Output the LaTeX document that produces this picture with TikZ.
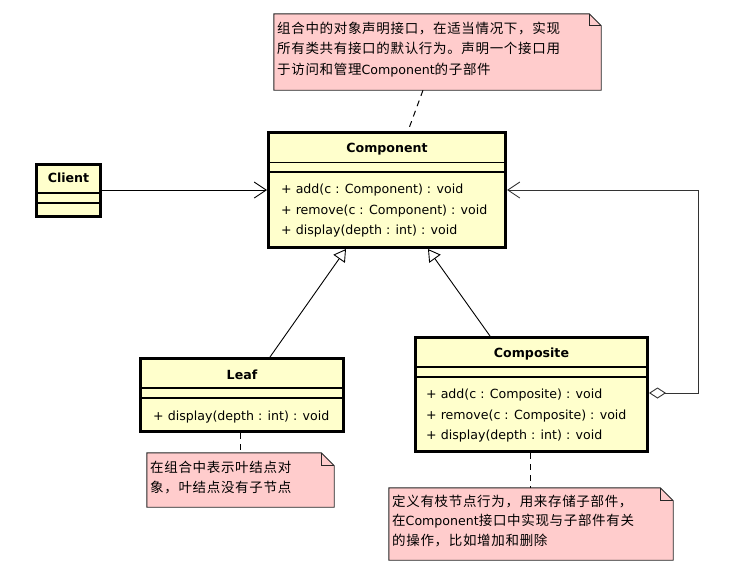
\documentclass[tikz,border=0pt]{standalone}
\usepackage{fontspec}
\setmainfont{DejaVu Sans}
\newfontfamily\cjk[LetterSpace=5]{Noto Sans CJK SC}
\newfontfamily\lat{DejaVu Sans}
\usetikzlibrary{arrows.meta,calc}
\definecolor{clsfill}{HTML}{FFFFCC}
\definecolor{notefill}{HTML}{FFCCCC}
\tikzset{
 cls/.style={draw=black, line width=3pt, fill=clsfill, inner sep=0pt, rectangle},
 sepline/.style={line width=1.2pt},
 ttl/.style={font=\fontsize{12.6}{15}\selectfont\bfseries, inner sep=0pt},
 meth/.style={font=\fontsize{12.6}{15}\selectfont, inner sep=0pt, anchor=west},
 notebox/.style={inner sep=0pt, rectangle},
 noteshape/.style={draw=black!85, line width=0.9pt, fill=notefill},
 notetxt/.style={font=\cjk\fontsize{13.5}{16}\selectfont, inner sep=0pt, anchor=base west},
 dep/.style={-{Straight Barb[length=12pt,width=16pt]}, line width=0.9pt},
 inh/.style={-{Triangle[open,length=12pt,width=14pt]}, line width=0.9pt},
 agg/.style={{Diamond[open,length=17pt,width=11pt]}-{Straight Barb[length=12pt,width=16pt]}, line width=0.9pt, draw=black!80},
 anchorline/.style={dash pattern=on 6pt off 5pt, line width=1pt},
}
\newcommand{\mynote}[2]{%
 \draw[noteshape] (#1.north west) -- ($(#1.north east)+(-#2,0pt)$) -- ($(#1.north east)+(0pt,-#2)$) -- (#1.south east) -- (#1.south west) -- cycle;
 \draw[noteshape, fill=none] ($(#1.north east)+(-#2,0pt)$) -- ($(#1.north east)+(-#2,-#2)$) -- ($(#1.north east)+(0pt,-#2)$);
}
\begin{document}
\begin{tikzpicture}[x=1pt,y=-1pt]
\useasboundingbox[fill=white] (0,0) rectangle (738,576);

% Notes
\node[notebox, minimum width=327pt, minimum height=76pt] (note1) at (437.5,52) {};
\mynote{note1}{12pt}
\node[notetxt] (n1a) at (277,33) {组合中的对象声明接口，在适当情况下，实现};
\node[notetxt] (n1b) at (277,53) {所有类共有接口的默认行为。声明一个接口用};
\node[notetxt] (n1c) at (277,74) {于访问和管理{\lat\fontsize{12.6}{15}\selectfont Component}的子部件};

\node[notebox, minimum width=187pt, minimum height=54pt] (note2) at (240.5,480) {};
\mynote{note2}{13pt}
\node[notetxt] (n2a) at (150,472) {在组合中表示叶结点对};
\node[notetxt] (n2b) at (150,492) {象，叶结点没有子节点};

\node[notebox, minimum width=284pt, minimum height=72pt] (note3) at (531,524) {};
\mynote{note3}{13pt}
\node[notetxt] (n3a) at (392,506) {定义有枝节点行为，用来存储子部件，};
\node[notetxt] (n3b) at (392,525) {在{\lat\fontsize{12.6}{15}\selectfont Component}接口中实现与子部件有关};
\node[notetxt] (n3c) at (392,545) {的操作，比如增加和删除};

% Classes
\node[cls, minimum width=237pt, minimum height=115pt] (comp) at (387,190) {};
\draw[sepline] (comp.west |- 0,162.7) -- (comp.east |- 0,162.7);
\draw[sepline] (comp.west |- 0,172) -- (comp.east |- 0,172);
\node[ttl] (compt) at (387,149) {Component};
\node[meth] (compm1) at (281,190) {+ add(c : Component) : void};
\node[meth] (compm2) at (281,211) {+ remove(c : Component) : void};
\node[meth] (compm3) at (281,231) {+ display(depth : int) : void};

\node[cls, minimum width=64pt, minimum height=52pt] (client) at (68.5,190) {};
\draw[sepline] (client.west |- 0,193) -- (client.east |- 0,193);
\draw[sepline] (client.west |- 0,203) -- (client.east |- 0,203);
\node[ttl] (clientt) at (68.5,178) {Client};

\node[cls, minimum width=203pt, minimum height=73pt] (leaf) at (242,395) {};
\draw[sepline] (leaf.west |- 0,388) -- (leaf.east |- 0,388);
\draw[sepline] (leaf.west |- 0,398) -- (leaf.east |- 0,398);
\node[ttl] (leaft) at (242,375) {Leaf};
\node[meth] (leafm1) at (153,417) {+ display(depth : int) : void};

\node[cls, minimum width=232pt, minimum height=114pt] (compo) at (531.5,394.5) {};
\draw[sepline] (compo.west |- 0,367) -- (compo.east |- 0,367);
\draw[sepline] (compo.west |- 0,377) -- (compo.east |- 0,377);
\node[ttl] (compot) at (531.5,354) {Composite};
\node[meth] (compom1) at (426,395) {+ add(c : Composite) : void};
\node[meth] (compom2) at (426,416) {+ remove(c : Composite) : void};
\node[meth] (compom3) at (426,436) {+ display(depth : int) : void};

% Connectors
\draw[dep] (client.east) -- (comp.west);
\draw[inh] ([xshift=28pt]leaf.north) -- ([xshift=-41pt]comp.south);
\draw[inh] ([xshift=-41.5pt]compo.north) -- ([xshift=41pt]comp.south);
\draw[agg] ([yshift=1.5pt]compo.east) -| ([xshift=191pt]comp.east) -- (comp.east);
\draw[anchorline] ([xshift=-14.5pt]note1.south) -- ([xshift=21pt]comp.north);
\draw[anchorline] ([xshift=-2pt]leaf.south) -- ([xshift=-2pt]leaf.south |- note2.north);
\draw[anchorline] ([xshift=-1.5pt]compo.south) -- ([xshift=-1.5pt]compo.south |- note3.north);
\end{tikzpicture}
\end{document}
